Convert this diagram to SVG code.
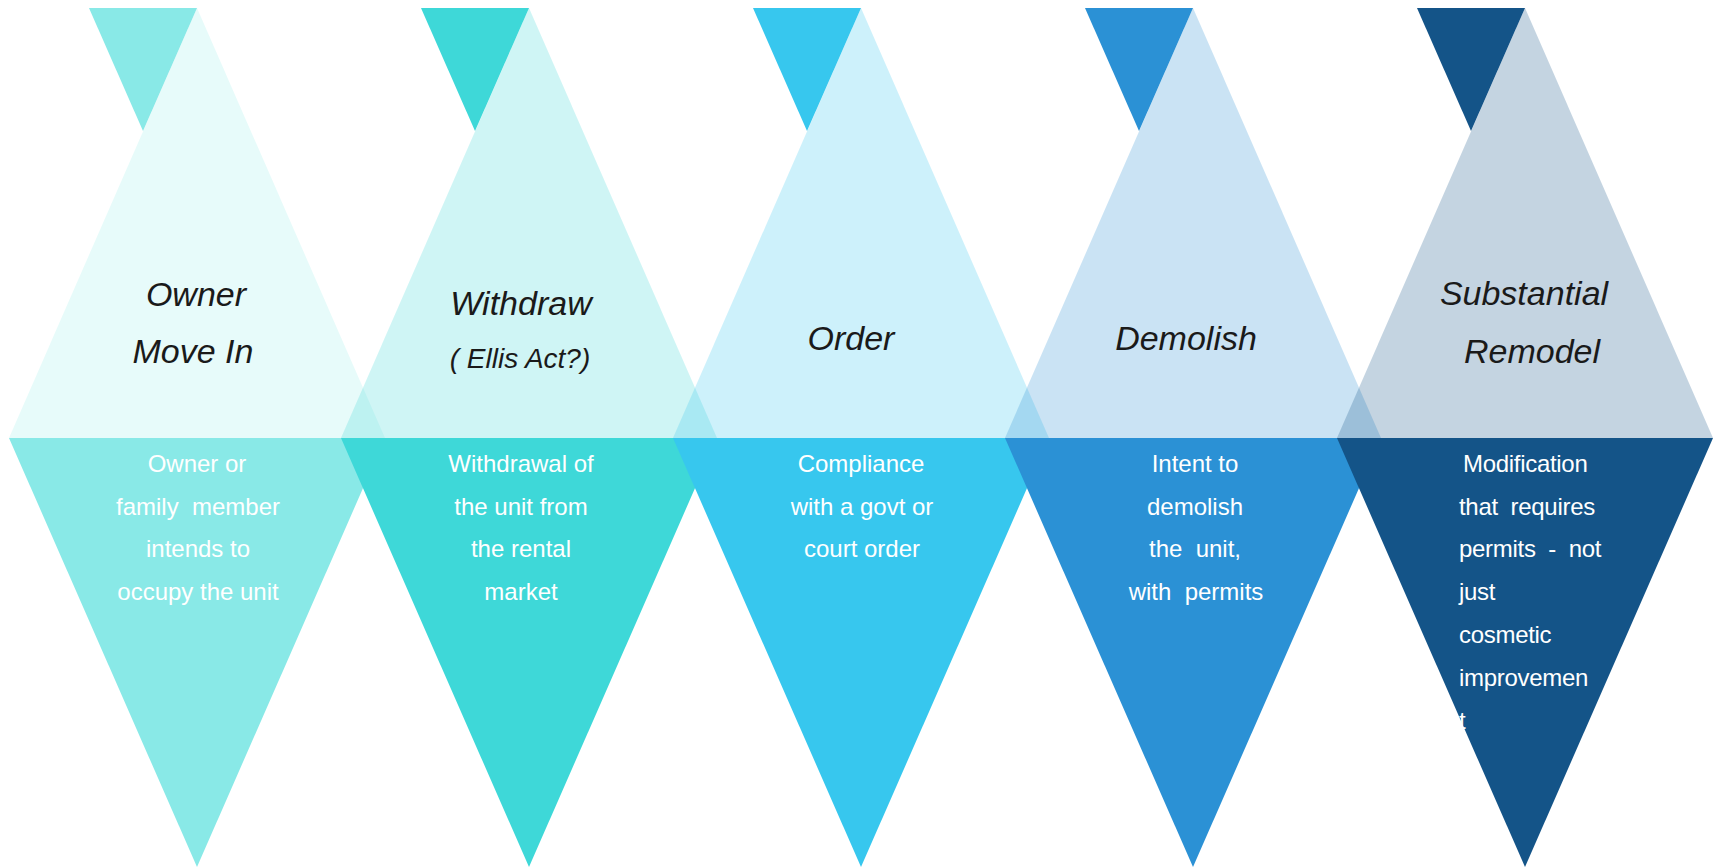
<svg xmlns="http://www.w3.org/2000/svg" width="1715" height="867" viewBox="0 0 1715 867">
<style>
.title{font-family:"Liberation Sans",Arial,sans-serif;font-style:italic;font-size:34px;fill:#1a1a1a;text-anchor:middle}
.sub{font-family:"Liberation Sans",Arial,sans-serif;font-style:italic;font-size:28px;fill:#1a1a1a;text-anchor:middle}
.body{font-family:"Liberation Sans",Arial,sans-serif;font-size:24px;fill:#ffffff;text-anchor:middle;white-space:pre}
.bodyl{font-family:"Liberation Sans",Arial,sans-serif;font-size:24px;fill:#ffffff;white-space:pre;letter-spacing:-0.3px}
</style>
<rect width="1715" height="867" fill="#ffffff"/>
<g id="unit1">
  <polygon points="89,8 197,8 143,131" fill="#89E9E7"/>
  <polygon points="197,8 9,438 385,438" fill="#89E9E7" fill-opacity="0.2"/>
  <polygon points="9,438 385,438 197,867" fill="#89E9E7"/>
  <text class="title" x="196" y="306">Owner</text>
  <text class="title" x="193" y="363">Move In</text>
  <text class="body" x="197" y="472">Owner or</text>
  <text class="body" x="198" y="515">family  member</text>
  <text class="body" x="198" y="557">intends to</text>
  <text class="body" x="198" y="600">occupy the unit</text>
</g>
<g id="unit2">
  <polygon points="421,8 529,8 475,131" fill="#3ED8D8"/>
  <polygon points="529,8 341,438 717,438" fill="#3ED8D8" fill-opacity="0.25"/>
  <polygon points="341,438 717,438 529,867" fill="#3ED8D8"/>
  <text class="title" x="521" y="315">Withdraw</text>
  <text class="sub" x="520" y="368">( Ellis Act?)</text>
  <text class="body" x="521" y="472">Withdrawal of</text>
  <text class="body" x="521" y="515">the unit from</text>
  <text class="body" x="521" y="557">the rental</text>
  <text class="body" x="521" y="600">market</text>
</g>
<g id="unit3">
  <polygon points="753,8 861,8 807,131" fill="#37C7EE"/>
  <polygon points="861,8 673,438 1049,438" fill="#37C7EE" fill-opacity="0.25"/>
  <polygon points="673,438 1049,438 861,867" fill="#37C7EE"/>
  <text class="title" x="851" y="350">Order</text>
  <text class="body" x="861" y="472">Compliance</text>
  <text class="body" x="862" y="515">with a govt or</text>
  <text class="body" x="862" y="557">court order</text>
</g>
<g id="unit4">
  <polygon points="1085,8 1193,8 1139,131" fill="#2B91D5"/>
  <polygon points="1193,8 1005,438 1381,438" fill="#2B91D5" fill-opacity="0.25"/>
  <polygon points="1005,438 1381,438 1193,867" fill="#2B91D5"/>
  <text class="title" x="1186" y="350">Demolish</text>
  <text class="body" x="1195" y="472">Intent to</text>
  <text class="body" x="1195" y="515">demolish</text>
  <text class="body" x="1195" y="557">the  unit,</text>
  <text class="body" x="1196" y="600">with  permits</text>
</g>
<g id="unit5">
  <polygon points="1417,8 1525,8 1471,131" fill="#145488"/>
  <polygon points="1525,8 1337,438 1713,438" fill="#145488" fill-opacity="0.25"/>
  <polygon points="1337,438 1713,438 1525,867" fill="#145488"/>
  <text class="title" x="1524" y="305">Substantial</text>
  <text class="title" x="1532" y="363">Remodel</text>
  <text class="bodyl" x="1463" y="472">Modification</text>
  <text class="bodyl" x="1459" y="515">that  requires</text>
  <text class="bodyl" x="1459" y="557">permits  -  not</text>
  <text class="bodyl" x="1459" y="600">just</text>
  <text class="bodyl" x="1459" y="643">cosmetic</text>
  <text class="bodyl" x="1459" y="686">improvemen</text>
  <text class="bodyl" x="1459" y="729">t</text>
</g>
</svg>
